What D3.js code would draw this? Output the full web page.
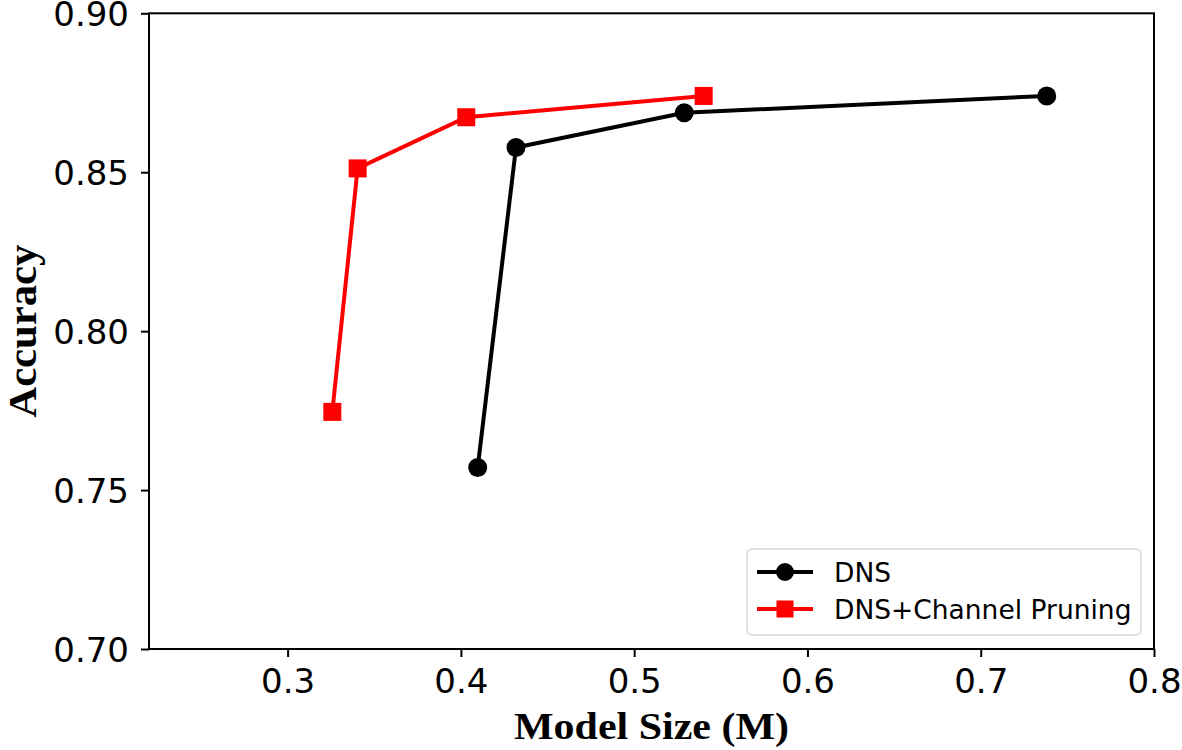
<!DOCTYPE html>
<html><head><meta charset="utf-8">
<script src="https://cdn.jsdelivr.net/npm/d3@7"></script>
<style>html,body{margin:0;padding:0;background:#fff;}</style>
</head><body>
<svg id="chart" width="1182" height="750"></svg>
<script>
const dnsSize = [0.4097, 0.4318, 0.5289, 0.7381];
const dnsAcc = [0.7571, 0.8578, 0.8687, 0.8740];
const cpSize = [0.3258, 0.3404, 0.4031, 0.5401];
const cpAcc = [0.7746, 0.8512, 0.8673, 0.8740];
const xTicks = [0.3, 0.4, 0.5, 0.6, 0.7, 0.8];
const yTicks = [0.70, 0.75, 0.80, 0.85, 0.90];
const seriesNames = ["DNS", "DNS+Channel Pruning"];

const svg = d3.select("#chart");
const L = 149, R = 1154, T = 13.3, B = 649;
const x = d3.scaleLinear().domain([0.22, 0.8]).range([L, R]);
const y = d3.scaleLinear().domain([0.70, 0.90]).range([B, T]);

const tickFont = "'DejaVu Sans', sans-serif";

// axes
const xAxis = svg.append("g").attr("transform", `translate(0,${B})`)
  .call(d3.axisBottom(x).tickValues(xTicks).tickSize(8).tickPadding(10).tickFormat(d3.format(".1f")));
const yAxis = svg.append("g").attr("transform", `translate(${L},0)`)
  .call(d3.axisLeft(y).tickValues(yTicks).tickSize(8).tickPadding(12).tickFormat(d3.format(".2f")));
[xAxis, yAxis].forEach(g => {
  g.select(".domain").remove();
  g.selectAll(".tick line").attr("stroke", "#000").attr("stroke-width", 2);
  g.selectAll(".tick text").attr("font-family", tickFont).attr("font-size", 34).attr("fill", "#000");
});
xAxis.selectAll(".tick text").attr("dy", "0.75em");
yAxis.selectAll(".tick text").attr("dy", "0.36em");

// frame
svg.append("rect").attr("x", L).attr("y", T).attr("width", R - L).attr("height", B - T)
  .attr("fill", "none").attr("stroke", "#000").attr("stroke-width", 2);

// axis labels
svg.append("text").attr("x", (L + R) / 2).attr("y", 739).attr("text-anchor", "middle")
  .attr("font-family", "'Liberation Serif', 'Times New Roman', serif").attr("font-weight", "bold")
  .attr("font-size", 37).attr("textLength", 275).attr("lengthAdjust", "spacingAndGlyphs")
  .text("Model Size (M)");
svg.append("text").attr("transform", `translate(36,${(T + B) / 2}) rotate(-90)`).attr("text-anchor", "middle")
  .attr("font-family", "'Liberation Serif', 'Times New Roman', serif").attr("font-weight", "bold")
  .attr("font-size", 41).attr("textLength", 173).attr("lengthAdjust", "spacingAndGlyphs")
  .text("Accuracy");

const line = d3.line().x(d => x(d[0])).y(d => y(d[1]));
const dnsData = dnsSize.map((v, i) => [v, dnsAcc[i]]);
const cpData = cpSize.map((v, i) => [v, cpAcc[i]]);

svg.append("path").datum(dnsData).attr("d", line).attr("fill", "none").attr("stroke", "#000").attr("stroke-width", 4);
svg.selectAll(".dns").data(dnsData).enter().append("circle")
  .attr("cx", d => x(d[0])).attr("cy", d => y(d[1])).attr("r", 9.5).attr("fill", "#000");

svg.append("path").datum(cpData).attr("d", line).attr("fill", "none").attr("stroke", "#ff0000").attr("stroke-width", 4);
const sq = 18;
svg.selectAll(".cp").data(cpData).enter().append("rect")
  .attr("x", d => x(d[0]) - sq / 2).attr("y", d => y(d[1]) - sq / 2).attr("width", sq).attr("height", sq).attr("fill", "#ff0000");

// legend
const lg = svg.append("g");
lg.append("rect").attr("x", 747).attr("y", 549).attr("width", 394).attr("height", 86).attr("rx", 5)
  .attr("fill", "#fff").attr("fill-opacity", 0.8).attr("stroke", "#d6d6d6").attr("stroke-width", 1.5);
const rows = [572, 609];
seriesNames.forEach((name, i) => {
  const cy = rows[i];
  const col = i === 0 ? "#000" : "#ff0000";
  lg.append("line").attr("x1", 757).attr("x2", 813).attr("y1", cy).attr("y2", cy).attr("stroke", col).attr("stroke-width", 4);
  if (i === 0) lg.append("circle").attr("cx", 785).attr("cy", cy).attr("r", 9).attr("fill", col);
  else lg.append("rect").attr("x", 785 - 8.5).attr("y", cy - 8.5).attr("width", 17).attr("height", 17).attr("fill", col);
  lg.append("text").attr("x", 834).attr("y", cy).attr("dy", "0.36em").attr("font-family", tickFont)
    .attr("font-size", 26.5).attr("fill", "#000").text(name);
});
</script>
</body></html>
